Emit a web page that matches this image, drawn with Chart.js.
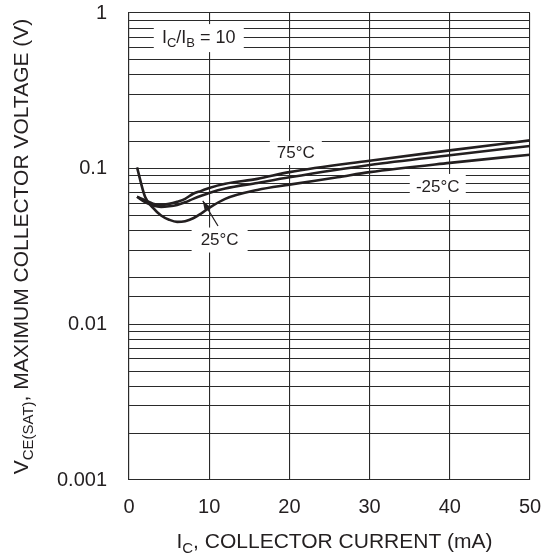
<!DOCTYPE html>
<html>
<head>
<meta charset="utf-8">
<script src="https://cdn.jsdelivr.net/npm/chart.js@4"></script>
<style>
  html, body { margin: 0; padding: 0; background: #fff; }
  #wrap { width: 551px; height: 558px; }
</style>
</head>
<body>
<div id="wrap"><canvas id="chart" width="551" height="558"></canvas></div>
<script>
// collector current, mA
const currentA = [1, 2, 3, 4, 5, 6, 7, 8, 9, 10, 12, 16, 20, 26, 30, 40, 50];
const currentBC = [1, 2, 3, 4, 5, 6, 7, 8, 9, 10, 12, 16, 20, 30, 40, 50];

// VCE(sat), volts
const vceSteep = [0.102, 0.066, 0.056, 0.050, 0.047, 0.0455, 0.046, 0.048, 0.0515, 0.056, 0.064, 0.073, 0.079, 0.088, 0.095, 0.109, 0.123];
const vceTop = [0.066, 0.0627, 0.0596, 0.0585, 0.0594, 0.0613, 0.064, 0.069, 0.072, 0.0752, 0.080, 0.086, 0.095, 0.1125, 0.131, 0.152];
const vceMid = [0.066, 0.061, 0.058, 0.0568, 0.0573, 0.0585, 0.0608, 0.064, 0.067, 0.0698, 0.0745, 0.081, 0.088, 0.1056, 0.122, 0.140];

const xTicks = [0, 10, 20, 30, 40, 50];
const yMajor = [0.001, 0.01, 0.1, 1];

// text labels placed in data coordinates
const notes = [
  { parts: [["I"], ["C", 1], ["/I"], ["B", 1], [" = 10"]], x: 8.7, y: 0.69, w: 90, h: 28, size: 18 },
  { parts: [["75°C"]], x: 20.8, y: 0.126, w: 52, h: 24, size: 17 },
  { parts: [["-25°C"]], x: 38.5, y: 0.0763, w: 56, h: 26, size: 17 },
  { parts: [["25°C"]], x: 11.3, y: 0.0348, w: 56, h: 25, size: 17 }
];
const arrowFrom = [11.1, 0.0428];
const arrowTo = [9.2, 0.0621];

const INK = "#231f20";
const FONT = "'Liberation Sans', Arial, sans-serif";

function toPoints(xs, ys) {
  return xs.map((x, i) => ({ x: x, y: ys[i] }));
}

function isDecade(v) {
  const l = Math.log10(v);
  return Math.abs(l - Math.round(l)) < 1e-6;
}

// draw text made of normal and subscript pieces, centred on x
function drawRich(ctx, parts, x, y, size) {
  const subSize = Math.round(size * 0.72);
  let total = 0;
  parts.forEach(p => {
    ctx.font = (p[1] ? subSize : size) + "px " + FONT;
    total += ctx.measureText(p[0]).width;
  });
  let cx = x - total / 2;
  ctx.textAlign = "left";
  ctx.textBaseline = "middle";
  parts.forEach(p => {
    ctx.font = (p[1] ? subSize : size) + "px " + FONT;
    ctx.fillText(p[0], cx, p[1] ? y + size * 0.32 : y);
    cx += ctx.measureText(p[0]).width;
  });
}

const decorations = {
  id: "decorations",
  afterDatasetsDraw(chart) {
    const ctx = chart.ctx;
    const xs = chart.scales.x, ys = chart.scales.y;
    ctx.save();
    ctx.fillStyle = INK;

    notes.forEach(n => {
      const px = xs.getPixelForValue(n.x), py = ys.getPixelForValue(n.y);
      ctx.fillStyle = "#fff";
      ctx.fillRect(px - n.w / 2, py - n.h / 2, n.w, n.h);
      ctx.fillStyle = INK;
      drawRich(ctx, n.parts, px, py, n.size);
    });

    // arrow to the 25°C curve
    const ax = xs.getPixelForValue(arrowFrom[0]), ay = ys.getPixelForValue(arrowFrom[1]);
    const bx = xs.getPixelForValue(arrowTo[0]), by = ys.getPixelForValue(arrowTo[1]);
    const ang = Math.atan2(by - ay, bx - ax);
    ctx.strokeStyle = INK;
    ctx.lineWidth = 1.2;
    ctx.beginPath();
    ctx.moveTo(ax, ay);
    ctx.lineTo(bx, by);
    ctx.stroke();
    ctx.beginPath();
    ctx.moveTo(bx, by);
    ctx.lineTo(bx - 9 * Math.cos(ang - 0.35), by - 9 * Math.sin(ang - 0.35));
    ctx.lineTo(bx - 9 * Math.cos(ang + 0.35), by - 9 * Math.sin(ang + 0.35));
    ctx.closePath();
    ctx.fill();

    // axis titles
    const area = chart.chartArea;
    drawRich(ctx, [["I"], ["C", 1], [", COLLECTOR CURRENT (mA)"]], (area.left + area.right) / 2 + 5, 542, 21);
    ctx.translate(22, (area.top + area.bottom) / 2);
    ctx.rotate(-Math.PI / 2);
    drawRich(ctx, [["V"], ["CE(SAT)", 1], [", MAXIMUM COLLECTOR VOLTAGE (V)"]], 0, 0, 21);
    ctx.restore();
  }
};

const line = (data) => ({
  data: data,
  borderColor: INK,
  borderWidth: 2.6,
  pointRadius: 0,
  fill: false,
  cubicInterpolationMode: "monotone"
});

new Chart(document.getElementById("chart"), {
  type: "line",
  data: {
    datasets: [
      line(toPoints(currentA, vceSteep)),
      line(toPoints(currentBC, vceTop)),
      line(toPoints(currentBC, vceMid))
    ]
  },
  options: {
    responsive: false,
    animation: false,
    layout: { padding: { top: 13, right: 21, left: 0, bottom: 0 } },
    plugins: { legend: { display: false }, tooltip: { enabled: false } },
    scales: {
      x: {
        type: "linear",
        min: 0,
        max: 50,
        afterBuildTicks: (axis) => { axis.ticks = xTicks.map(v => ({ value: v })); },
        afterFit: (axis) => {
          axis.height = 78;
          axis.paddingLeft = 0;
          axis.paddingRight = 0;
        },
        grid: { color: "#2a2a2a", lineWidth: 1.1, drawTicks: false },
        border: { color: "#2a2a2a", width: 1.1 },
        ticks: { color: INK, font: { family: FONT, size: 20 }, padding: 15, maxRotation: 0 }
      },
      y: {
        type: "logarithmic",
        min: 0.001,
        max: 1,
        afterFit: (axis) => {
          axis.width = 129;
          axis.paddingTop = 0;
          axis.paddingBottom = 0;
        },
        grid: { color: "#2a2a2a", lineWidth: 1.1, drawTicks: false },
        border: { color: "#2a2a2a", width: 1.1 },
        ticks: {
          autoSkip: false,
          color: INK,
          font: { family: FONT, size: 20 },
          padding: 22,
          callback: (v) => {
            if (!isDecade(v)) return "";
            const hit = yMajor.find(m => Math.abs(m - v) / m < 1e-6);
            return hit === undefined ? "" : String(hit);
          }
        }
      }
    }
  },
  plugins: [decorations]
});
</script>
</body>
</html>
